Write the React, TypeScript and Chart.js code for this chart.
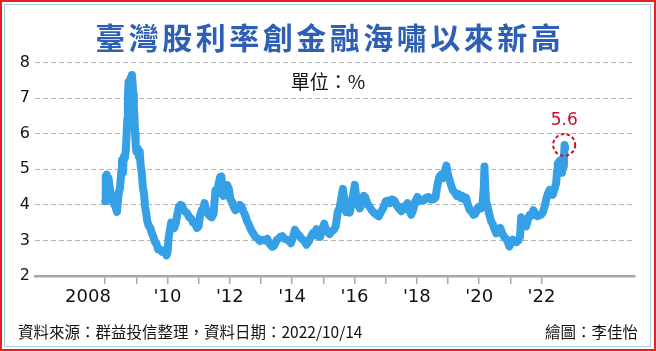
import { useEffect, useRef } from 'react';
import { Chart, registerables } from 'chart.js';

Chart.register(...registerables);

const titleText = '臺灣股利率創金融海嘯以來新高';
const unitText = '單位：%';
const sourceText = '資料來源：群益投信整理，資料日期：2022/10/14';
const creditText = '繪圖：李佳怡';
const latestLabel = '5.6';

const yearTicks = [2008, 2009, 2010, 2011, 2012, 2013, 2014, 2015, 2016, 2017, 2018, 2019, 2020, 2021, 2022];
const yearLabels = ['2008      ', '', "'10", '', "'12", '', "'14", '', "'16", '', "'18", '', "'20", '', "'22"];
const yTicks = [2, 3, 4, 5, 6, 7, 8];

const dates = [
  2008.00, 2008.02, 2008.05, 2008.08, 2008.11, 2008.16, 2008.22, 2008.27, 2008.33, 2008.38,
  2008.43, 2008.48, 2008.52, 2008.54, 2008.57, 2008.60, 2008.63, 2008.66, 2008.69, 2008.71,
  2008.73, 2008.75, 2008.78, 2008.81, 2008.84, 2008.86, 2008.88, 2008.90, 2008.92, 2008.94,
  2008.96, 2008.98, 2009.00, 2009.04, 2009.08, 2009.11, 2009.14, 2009.17, 2009.21, 2009.25,
  2009.28, 2009.32, 2009.35,
  2009.40, 2009.45, 2009.50, 2009.55, 2009.60, 2009.65, 2009.70, 2009.76, 2009.82, 2009.88,
  2009.93, 2009.97, 2010.00, 2010.04, 2010.08, 2010.12, 2010.17, 2010.22, 2010.27, 2010.32,
  2010.37, 2010.42, 2010.47, 2010.52, 2010.58, 2010.64, 2010.70, 2010.76, 2010.82, 2010.88,
  2010.95, 2011.00, 2011.05, 2011.10, 2011.15, 2011.19, 2011.24, 2011.30, 2011.36, 2011.42,
  2011.48, 2011.54, 2011.59, 2011.64, 2011.69, 2011.73, 2011.77, 2011.80, 2011.86, 2011.92,
  2011.97, 2012.02, 2012.07, 2012.12, 2012.18, 2012.25, 2012.32, 2012.38, 2012.44, 2012.50,
  2012.55, 2012.61, 2012.68, 2012.75, 2012.82, 2012.90, 2012.97, 2013.05, 2013.12, 2013.20,
  2013.28, 2013.36, 2013.42, 2013.50, 2013.56, 2013.62, 2013.68, 2013.75, 2013.82, 2013.90,
  2013.96, 2014.03, 2014.09, 2014.15, 2014.22, 2014.30, 2014.38, 2014.46, 2014.52, 2014.60,
  2014.66, 2014.72, 2014.78, 2014.84, 2014.90, 2014.96, 2015.03, 2015.08, 2015.14, 2015.20,
  2015.26, 2015.34, 2015.40, 2015.46, 2015.52, 2015.58, 2015.63, 2015.68, 2015.73, 2015.79,
  2015.85, 2015.90, 2015.96, 2016.01, 2016.06, 2016.12, 2016.17, 2016.23, 2016.30, 2016.35,
  2016.41, 2016.48, 2016.55, 2016.62, 2016.70, 2016.78, 2016.85, 2016.92, 2017.00, 2017.07,
  2017.14, 2017.21, 2017.28, 2017.35, 2017.42, 2017.50, 2017.56, 2017.63, 2017.70, 2017.76,
  2017.82, 2017.88, 2017.95, 2018.02, 2018.08, 2018.15, 2018.22, 2018.30, 2018.38, 2018.45,
  2018.52, 2018.60, 2018.66, 2018.72, 2018.78, 2018.84, 2018.90, 2018.95, 2019.00, 2019.05,
  2019.10, 2019.16, 2019.22, 2019.28, 2019.34, 2019.40, 2019.46, 2019.52, 2019.58, 2019.64,
  2019.70, 2019.76, 2019.82, 2019.88, 2019.94, 2020.00, 2020.06, 2020.11, 2020.15, 2020.17,
  2020.19, 2020.22, 2020.27, 2020.32, 2020.38, 2020.44, 2020.50, 2020.55, 2020.62, 2020.68,
  2020.74, 2020.80, 2020.86, 2020.92, 2020.97, 2021.03, 2021.08, 2021.14, 2021.20, 2021.26,
  2021.31, 2021.35, 2021.40, 2021.46, 2021.51, 2021.57, 2021.62, 2021.68, 2021.74, 2021.80,
  2021.86, 2021.92, 2021.98, 2022.04, 2022.10, 2022.15, 2022.20, 2022.26, 2022.31, 2022.36,
  2022.42, 2022.47, 2022.50, 2022.52, 2022.56, 2022.60, 2022.63, 2022.66, 2022.69, 2022.72,
  2022.74, 2022.76,
];

const yields = [
  4.10, 4.80, 4.85, 4.60, 4.75, 4.40, 4.20, 4.05, 3.95, 3.80,
  4.30, 4.50, 4.95, 5.25, 4.90, 5.35, 5.30, 5.50, 6.00, 6.40,
  7.00, 7.45, 7.40, 7.55, 7.60, 7.65, 7.45, 7.10, 6.80, 6.50,
  6.00, 5.70, 5.50, 5.60, 5.35, 5.50, 5.10, 4.95, 4.50, 4.30,
  3.95, 3.75, 3.55,
  3.40, 3.35, 3.20, 3.10, 2.95, 2.90, 2.75, 2.75, 2.68, 2.72,
  2.70, 2.58, 2.65, 3.10, 3.30, 3.50, 3.40, 3.35, 3.50, 3.75,
  3.95, 4.00, 3.98, 3.85, 3.80, 3.75, 3.65, 3.62, 3.50, 3.48,
  3.35, 3.40, 3.72, 3.85, 3.90, 4.05, 3.85, 3.75, 3.68, 3.65,
  3.75, 4.40, 4.30, 4.60, 4.78, 4.80, 4.35, 4.25, 4.50, 4.55,
  4.45, 4.15, 4.10, 3.95, 3.85, 3.90, 4.00, 3.95, 3.80, 3.70,
  3.55, 3.45, 3.30, 3.20, 3.10, 3.05, 2.98, 3.02, 3.00, 3.05,
  2.90, 2.82, 2.85, 3.00, 3.05, 3.10, 3.12, 3.05, 3.02, 3.00,
  2.92, 3.10, 3.30, 3.20, 3.15, 3.05, 3.00, 2.88, 2.95, 3.10,
  3.20, 3.15, 3.32, 3.12, 3.10, 3.30, 3.47, 3.30, 3.25, 3.18,
  3.25, 3.30, 3.40, 3.80, 3.90, 4.20, 4.45, 4.10, 3.80, 4.00,
  3.78, 4.05, 4.30, 4.56, 4.20, 4.00, 3.90, 4.00, 4.25, 4.20,
  4.05, 3.95, 3.85, 3.78, 3.72, 3.68, 3.80, 3.90, 4.10, 4.12,
  4.05, 4.15, 4.12, 4.00, 3.90, 3.82, 3.95, 3.88, 4.05, 3.85,
  3.72, 3.85, 4.10, 4.22, 4.10, 4.15, 4.12, 4.20, 4.22, 4.15,
  4.15, 4.20, 4.55, 4.78, 4.85, 4.75, 4.95, 5.10, 4.85, 4.70,
  4.55, 4.40, 4.35, 4.25, 4.30, 4.20, 4.25, 4.15, 4.20, 4.00,
  3.85, 3.80, 3.72, 3.75, 3.90, 3.95, 3.90, 4.05, 4.50, 5.08,
  4.60, 4.10, 3.95, 3.75, 3.55, 3.45, 3.30, 3.20, 3.25, 3.35,
  3.20, 3.10, 3.05, 2.95, 2.83, 2.95, 3.02, 2.98, 2.95, 3.00,
  3.10, 3.65, 3.55, 3.45, 3.40, 3.60, 3.72, 3.70, 3.85, 3.75,
  3.68, 3.70, 3.72, 3.78, 3.95, 4.15, 4.30, 4.42, 4.35, 4.28,
  4.45, 4.60, 4.95, 5.15, 5.20, 5.25, 5.20, 4.90, 5.10, 5.30,
  5.68, 5.60,
];

const markerPlugin = {
  id: 'latestMarker',
  afterDatasetsDraw(chart: any) {
    const meta = chart.getDatasetMeta(0);
    const pt = meta.data[meta.data.length - 1];
    if (!pt) return;
    const ctx = chart.ctx;
    ctx.save();
    ctx.beginPath();
    ctx.setLineDash([3.5, 2.5]);
    ctx.lineWidth = 2;
    ctx.strokeStyle = '#c8102e';
    ctx.arc(pt.x - 1, pt.y - 3, 11, 0, Math.PI * 2);
    ctx.stroke();
    ctx.setLineDash([]);
    ctx.fillStyle = '#c8102e';
    ctx.font = '17px "DejaVu Sans"';
    ctx.textAlign = 'center';
    ctx.textBaseline = 'middle';
    ctx.fillText(latestLabel, pt.x - 1, pt.y - 27);
    ctx.restore();
  },
};

export default function App() {
  const canvasRef = useRef<HTMLCanvasElement | null>(null);

  useEffect(() => {
    if (!canvasRef.current) return;
    const chart = new Chart(canvasRef.current, {
      type: 'line',
      data: {
        datasets: [
          {
            data: dates.map((d, i) => ({ x: d, y: yields[i] })),
            borderColor: '#36a0e6',
            borderWidth: 8,
            borderCapStyle: 'round',
            borderJoinStyle: 'round',
            pointRadius: 0,
            tension: 0,
            fill: false,
          },
        ],
      },
      options: {
        animation: false,
        responsive: false,
        maintainAspectRatio: false,
        layout: { padding: { left: 0, right: 21, top: 62.5, bottom: 45 } },
        plugins: { legend: { display: false }, tooltip: { enabled: false }, title: { display: false } },
        scales: {
          x: {
            type: 'linear',
            min: 2005.75,
            max: 2025,
            afterBuildTicks: (scale: any) => {
              scale.ticks = yearTicks.map((v) => ({ value: v }));
            },
            afterFit: (scale: any) => {
              scale.height = 30;
            },
            grid: {
              drawOnChartArea: false,
              drawTicks: true,
              tickLength: 8,
              color: '#a8a8a8',
              lineWidth: 1.5,
            },
            border: { display: true, color: '#a8a8a8', width: 2.5 },
            ticks: {
              autoSkip: false,
              maxRotation: 0,
              padding: 3,
              color: '#111',
              font: { family: '"DejaVu Sans"', size: 18 },
              callback: (value: any) => {
                const idx = yearTicks.indexOf(Number(value));
                return idx >= 0 ? yearLabels[idx] : '';
              },
            },
          },
          y: {
            type: 'linear',
            min: 2,
            max: 8,
            afterBuildTicks: (scale: any) => {
              scale.ticks = yTicks.map((v) => ({ value: v }));
            },
            afterFit: (scale: any) => {
              scale.width = 35;
            },
            grid: {
              drawTicks: false,
              color: (c: any) => (c.tick && c.tick.value === 2 ? 'rgba(0,0,0,0)' : '#b4b4b4'),
              lineWidth: 1,
            },
            border: { display: false, dash: [5, 3] },
            ticks: {
              padding: 5,
              color: '#111',
              font: { family: '"DejaVu Sans"', size: 16 },
              callback: (value: any) => String(value),
            },
          },
        },
      },
      plugins: [markerPlugin],
    } as any);
    return () => chart.destroy();
  }, []);

  return (
    <div style={{ position: 'absolute', left: 0, top: 0, width: 656, height: 351, background: '#fff', overflow: 'hidden' }}>
      <div style={{ position: 'absolute', left: 0, top: 0, width: 656, height: 351, boxSizing: 'border-box', border: '2.5px solid #ee1c25' }} />
      <div style={{ position: 'absolute', left: 4, top: 4, width: 647, height: 343, boxSizing: 'border-box', border: '1.5px solid #a9d2ef' }} />
      <canvas ref={canvasRef} width={656} height={351} style={{ position: 'absolute', left: 0, top: 0, width: 656, height: 351 }} />
      <div
        style={{
          position: 'absolute', left: 0, top: 20, width: 656, height: 32, lineHeight: '32px', textAlign: 'center',
          fontFamily: '"Noto Sans CJK TC", "Noto Sans CJK SC", sans-serif', fontWeight: 700, fontSize: 30,
          letterSpacing: '3.5px', paddingLeft: 3.5, boxSizing: 'border-box', color: '#2d5fb4', whiteSpace: 'nowrap',
        }}
      >
        {titleText}
      </div>
      <div
        style={{
          position: 'absolute', left: 0, top: 71, width: 656, height: 20, lineHeight: '20px', textAlign: 'center',
          fontFamily: '"Noto Sans CJK TC", sans-serif', fontSize: 19, color: '#111', whiteSpace: 'nowrap',
        }}
      >
        {unitText}
      </div>
      <div
        style={{
          position: 'absolute', left: 18, top: 322, height: 18, lineHeight: '18px',
          fontFamily: '"Noto Sans CJK TC", sans-serif', fontSize: 15.5, color: '#111', whiteSpace: 'nowrap',
        }}
      >
        {sourceText}
      </div>
      <div
        style={{
          position: 'absolute', right: 18, top: 322, height: 18, lineHeight: '18px', textAlign: 'right',
          fontFamily: '"Noto Sans CJK TC", sans-serif', fontSize: 15.5, color: '#111', whiteSpace: 'nowrap',
        }}
      >
        {creditText}
      </div>
    </div>
  );
}
